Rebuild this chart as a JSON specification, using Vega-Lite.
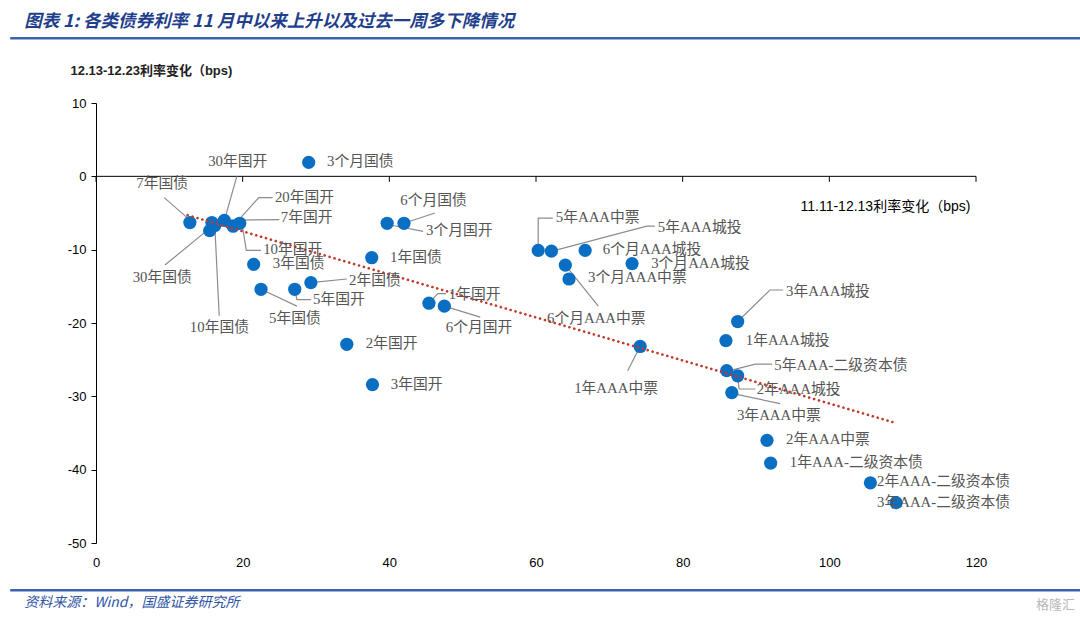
{
  "$schema": "https://vega.github.io/schema/vega-lite/v6.json",
  "width": 880,
  "height": 440,
  "autosize": {"type": "none"},
  "padding": {"left": 96, "top": 103, "right": 104, "bottom": 80},
  "background": "white",
  "config": {"view": {"stroke": null}},
  "datasets": {
    "pts": [
      {"n": "3个月国债", "x": 29.0, "y": 1.9, "lx": 31.5, "ly": 1.9},
      {"n": "7年国债", "x": 12.8, "y": -6.3, "lx": 5.5, "ly": -1.1},
      {"n": "30年国开", "x": 17.5, "y": -6.0, "lx": 15.3, "ly": 2.0},
      {"n": "20年国开", "x": 18.7, "y": -6.8, "lx": 24.4, "ly": -3.0},
      {"n": "7年国开", "x": 15.8, "y": -6.3, "lx": 25.2, "ly": -5.7},
      {"n": "10年国开", "x": 19.6, "y": -6.4, "lx": 22.8, "ly": -10.1},
      {"n": "30年国债", "x": 15.5, "y": -7.4, "lx": 5.0, "ly": -13.9},
      {"n": "10年国债", "x": 16.2, "y": -6.7, "lx": 12.8, "ly": -20.7},
      {"n": "3年国债", "x": 21.5, "y": -12.0, "lx": 24.1, "ly": -12.0},
      {"n": "5年国债", "x": 22.5, "y": -15.4, "lx": 23.6, "ly": -19.5},
      {"n": "5年国开", "x": 27.1, "y": -15.4, "lx": 29.6, "ly": -16.8},
      {"n": "2年国债", "x": 29.3, "y": -14.5, "lx": 34.5, "ly": -14.3},
      {"n": "6个月国债", "x": 42.0, "y": -6.4, "lx": 41.5, "ly": -3.4},
      {"n": "3个月国开", "x": 39.7, "y": -6.4, "lx": 45.0, "ly": -7.5},
      {"n": "1年国债", "x": 37.6, "y": -11.1, "lx": 40.1, "ly": -11.2},
      {"n": "2年国开", "x": 34.2, "y": -22.9, "lx": 36.8, "ly": -22.9},
      {"n": "3年国开", "x": 37.7, "y": -28.4, "lx": 40.2, "ly": -28.4},
      {"n": "1年国开", "x": 45.4, "y": -17.3, "lx": 48.1, "ly": -16.2},
      {"n": "6个月国开", "x": 47.5, "y": -17.7, "lx": 47.7, "ly": -20.7},
      {"n": "5年AAA中票", "x": 60.3, "y": -10.1, "lx": 62.7, "ly": -5.7},
      {"n": "5年AAA城投", "x": 62.1, "y": -10.2, "lx": 76.6, "ly": -7.1},
      {"n": "6个月AAA城投", "x": 66.7, "y": -10.1, "lx": 69.1, "ly": -10.1},
      {"n": "3个月AAA城投", "x": 73.1, "y": -11.9, "lx": 75.7, "ly": -12.0},
      {"n": "6个月AAA中票", "x": 64.0, "y": -12.1, "lx": 61.5, "ly": -19.5},
      {"n": "3个月AAA中票", "x": 64.5, "y": -14.0, "lx": 67.1, "ly": -13.9},
      {"n": "1年AAA中票", "x": 74.2, "y": -23.2, "lx": 65.2, "ly": -29.0},
      {"n": "3年AAA城投", "x": 87.5, "y": -19.8, "lx": 94.1, "ly": -15.8},
      {"n": "1年AAA城投", "x": 85.9, "y": -22.4, "lx": 88.6, "ly": -22.4},
      {"n": "5年AAA-二级资本债", "x": 86.0, "y": -26.5, "lx": 92.5, "ly": -25.9},
      {"n": "2年AAA城投", "x": 87.5, "y": -27.2, "lx": 90.1, "ly": -29.2},
      {"n": "3年AAA中票", "x": 86.7, "y": -29.5, "lx": 87.4, "ly": -32.7},
      {"n": "2年AAA中票", "x": 91.5, "y": -36.0, "lx": 94.1, "ly": -36.0},
      {"n": "1年AAA-二级资本债", "x": 92.0, "y": -39.1, "lx": 94.6, "ly": -39.1},
      {"n": "2年AAA-二级资本债", "x": 105.6, "y": -41.8, "lx": 106.5, "ly": -41.7},
      {"n": "3年AAA-二级资本债", "x": 109.1, "y": -44.5, "lx": 106.5, "ly": -44.5}
    ],
    "leaders": [
      {"n": "30年国开", "o": 1, "x": 19.2, "y": 0.0},
      {"n": "30年国开", "o": 2, "x": 17.6, "y": -5.7},
      {"n": "7年国债", "o": 1, "x": 9.3, "y": -2.9},
      {"n": "7年国债", "o": 2, "x": 12.5, "y": -5.7},
      {"n": "20年国开", "o": 1, "x": 24.1, "y": -2.9},
      {"n": "20年国开", "o": 2, "x": 22.2, "y": -2.9},
      {"n": "20年国开", "o": 3, "x": 18.7, "y": -6.8},
      {"n": "7年国开", "o": 1, "x": 25.0, "y": -5.9},
      {"n": "7年国开", "o": 2, "x": 16.2, "y": -6.0},
      {"n": "10年国开", "o": 1, "x": 22.5, "y": -10.1},
      {"n": "10年国开", "o": 2, "x": 20.5, "y": -10.1},
      {"n": "10年国开", "o": 3, "x": 19.9, "y": -6.4},
      {"n": "30年国债", "o": 1, "x": 9.4, "y": -12.1},
      {"n": "30年国债", "o": 2, "x": 15.5, "y": -7.1},
      {"n": "10年国债", "o": 1, "x": 16.8, "y": -19.0},
      {"n": "10年国债", "o": 2, "x": 16.2, "y": -6.7},
      {"n": "5年国债", "o": 1, "x": 27.4, "y": -17.7},
      {"n": "5年国债", "o": 2, "x": 22.5, "y": -15.4},
      {"n": "5年国开", "o": 1, "x": 29.3, "y": -16.8},
      {"n": "5年国开", "o": 2, "x": 27.4, "y": -16.8},
      {"n": "5年国开", "o": 3, "x": 27.1, "y": -15.5},
      {"n": "2年国债", "o": 1, "x": 34.2, "y": -14.0},
      {"n": "2年国债", "o": 2, "x": 29.3, "y": -14.5},
      {"n": "6个月国债", "o": 1, "x": 46.2, "y": -5.0},
      {"n": "6个月国债", "o": 2, "x": 42.0, "y": -6.4},
      {"n": "3个月国开", "o": 1, "x": 44.6, "y": -7.5},
      {"n": "3个月国开", "o": 2, "x": 40.5, "y": -6.7},
      {"n": "1年国开", "o": 1, "x": 47.7, "y": -16.0},
      {"n": "1年国开", "o": 2, "x": 46.6, "y": -16.0},
      {"n": "1年国开", "o": 3, "x": 45.5, "y": -17.2},
      {"n": "6个月国开", "o": 1, "x": 52.4, "y": -19.2},
      {"n": "6个月国开", "o": 2, "x": 47.5, "y": -17.7},
      {"n": "5年AAA中票", "o": 1, "x": 62.3, "y": -5.7},
      {"n": "5年AAA中票", "o": 2, "x": 60.3, "y": -5.7},
      {"n": "5年AAA中票", "o": 3, "x": 60.3, "y": -9.7},
      {"n": "5年AAA城投", "o": 1, "x": 76.2, "y": -6.8},
      {"n": "5年AAA城投", "o": 2, "x": 75.1, "y": -6.8},
      {"n": "5年AAA城投", "o": 3, "x": 62.2, "y": -10.2},
      {"n": "6个月AAA中票", "o": 1, "x": 68.5, "y": -17.7},
      {"n": "6个月AAA中票", "o": 2, "x": 64.0, "y": -12.1},
      {"n": "1年AAA中票", "o": 1, "x": 74.2, "y": -23.2},
      {"n": "1年AAA中票", "o": 2, "x": 72.5, "y": -26.5},
      {"n": "3年AAA城投", "o": 1, "x": 93.7, "y": -15.5},
      {"n": "3年AAA城投", "o": 2, "x": 91.9, "y": -15.5},
      {"n": "3年AAA城投", "o": 3, "x": 87.5, "y": -19.8},
      {"n": "5年AAA-二级资本债", "o": 1, "x": 92.2, "y": -25.6},
      {"n": "5年AAA-二级资本债", "o": 2, "x": 89.9, "y": -25.6},
      {"n": "5年AAA-二级资本债", "o": 3, "x": 86.0, "y": -26.6},
      {"n": "2年AAA城投", "o": 1, "x": 89.9, "y": -29.0},
      {"n": "2年AAA城投", "o": 2, "x": 87.7, "y": -29.0},
      {"n": "2年AAA城投", "o": 3, "x": 87.5, "y": -27.4},
      {"n": "3年AAA中票", "o": 1, "x": 93.3, "y": -31.0},
      {"n": "3年AAA中票", "o": 2, "x": 86.7, "y": -29.6}
    ],
    "trend": [
      {"x": 12.5, "y": -5.3},
      {"x": 108.6, "y": -33.5}
    ],
    "xticks": [{"t": 0}, {"t": 20}, {"t": 40}, {"t": 60}, {"t": 80}, {"t": 100}, {"t": 120}]
  },
  "layer": [
    {
      "data": {"name": "xticks"},
      "mark": {"type": "rule", "color": "black", "strokeWidth": 1, "clip": false},
      "encoding": {
        "x": {"field": "t", "type": "quantitative",
              "scale": {"domain": [0, 120], "nice": false, "zero": false},
              "axis": {"values": [0, 20, 40, 60, 80, 100, 120], "domain": false, "ticks": false, "grid": false,
                       "labelFlush": false, "labelOverlap": false,
                       "labelPadding": 13, "labelFont": "Liberation Sans", "labelFontSize": 13, "labelColor": "#000000",
                       "title": "11.11-12.13利率变化（bps)", "titleFont": "Liberation Sans, Noto Sans CJK SC",
                       "titleFontSize": 14, "titleFontWeight": "normal", "titleColor": "#000000",
                       "titleAnchor": "start", "titleAlign": "left", "titleBaseline": "middle", "titleAngle": 0,
                       "titleX": 704, "titleY": -337}},
        "y": {"datum": 0, "type": "quantitative",
              "scale": {"domain": [-50, 10], "nice": false, "zero": false},
              "axis": {"values": [-50, -40, -30, -20, -10, 0, 10], "grid": false, "domainColor": "#000000",
                       "labelExpr": "'' + datum.value", "labelFlush": false,
                       "tickColor": "#000000", "tickSize": 5, "labelPadding": 5,
                       "labelFont": "Liberation Sans", "labelFontSize": 13, "labelColor": "#000000",
                       "title": "12.13-12.23利率变化（bps)", "titleFont": "Liberation Sans, Noto Sans CJK SC",
                       "titleFontSize": 13, "titleFontWeight": "bold", "titleColor": "#222222",
                       "titleAngle": 0, "titleAlign": "left", "titleBaseline": "middle",
                       "titleX": -26, "titleY": -33}},
        "y2": {"datum": -0.75}
      }
    },
    {
      "data": {"values": [{"a": 0}]},
      "mark": {"type": "rule", "color": "black", "strokeWidth": 1},
      "encoding": {
        "x": {"datum": 0, "type": "quantitative"},
        "x2": {"datum": 120},
        "y": {"datum": 0, "type": "quantitative"}
      }
    },
    {
      "data": {"name": "leaders"},
      "mark": {"type": "line", "color": "#8c8c8c", "strokeWidth": 1.2},
      "encoding": {
        "x": {"field": "x", "type": "quantitative"},
        "y": {"field": "y", "type": "quantitative"},
        "detail": {"field": "n"},
        "order": {"field": "o", "type": "quantitative"}
      }
    },
    {
      "data": {"name": "pts"},
      "mark": {"type": "circle", "size": 175, "color": "#0a6fc2", "opacity": 1},
      "encoding": {
        "x": {"field": "x", "type": "quantitative"},
        "y": {"field": "y", "type": "quantitative"}
      }
    },
    {
      "data": {"name": "trend"},
      "mark": {"type": "line", "color": "#c0392b", "strokeWidth": 2.6, "strokeDash": [0.1, 5], "strokeCap": "round"},
      "encoding": {
        "x": {"field": "x", "type": "quantitative"},
        "y": {"field": "y", "type": "quantitative"}
      }
    },
    {
      "data": {"name": "pts"},
      "mark": {"type": "text", "align": "left", "baseline": "middle", "font": "Liberation Serif, Noto Sans CJK SC",
               "fontSize": 14.8, "color": "#555555", "clip": false},
      "encoding": {
        "x": {"field": "lx", "type": "quantitative"},
        "y": {"field": "ly", "type": "quantitative"},
        "text": {"field": "n"}
      }
    },
    {
      "data": {"values": [{"a": 0}]},
      "mark": {"type": "rule", "color": "#3a62ae", "strokeWidth": 2.5, "clip": false},
      "encoding": {
        "x": {"datum": -11.7, "type": "quantitative"},
        "x2": {"datum": 134.3},
        "y": {"datum": 18.82, "type": "quantitative"}
      }
    },
    {
      "data": {"values": [{"a": 0}]},
      "mark": {"type": "rule", "color": "#3a62ae", "strokeWidth": 2.5, "clip": false},
      "encoding": {
        "x": {"datum": -11.7, "type": "quantitative"},
        "x2": {"datum": 134.3},
        "y": {"datum": -56.45, "type": "quantitative"}
      }
    },
    {
      "data": {"values": [{"t": "图表 1:  各类债券利率 11 月中以来上升以及过去一周多下降情况"}]},
      "mark": {"type": "text", "align": "left", "baseline": "middle", "font": "Noto Sans CJK SC",
               "fontSize": 17.5, "fontWeight": "bold", "fontStyle": "italic", "color": "#1f3f8c", "clip": false},
      "encoding": {
        "x": {"datum": -9.8, "type": "quantitative"},
        "y": {"datum": 21.0, "type": "quantitative"},
        "text": {"field": "t"}
      }
    },
    {
      "data": {"values": [{"t": "资料来源：Wind，国盛证券研究所"}]},
      "mark": {"type": "text", "align": "left", "baseline": "middle", "font": "Noto Sans CJK SC",
               "fontSize": 14, "fontStyle": "italic", "color": "#2f55a4", "clip": false},
      "encoding": {
        "x": {"datum": -9.8, "type": "quantitative"},
        "y": {"datum": -58.2, "type": "quantitative"},
        "text": {"field": "t"}
      }
    },
    {
      "data": {"values": [{"t": "格隆汇"}]},
      "mark": {"type": "text", "align": "right", "baseline": "middle", "font": "Noto Sans CJK SC",
               "fontSize": 13, "color": "#b8b8b8", "clip": false},
      "encoding": {
        "x": {"datum": 133.5, "type": "quantitative"},
        "y": {"datum": -58.5, "type": "quantitative"},
        "text": {"field": "t"}
      }
    }
  ]
}
